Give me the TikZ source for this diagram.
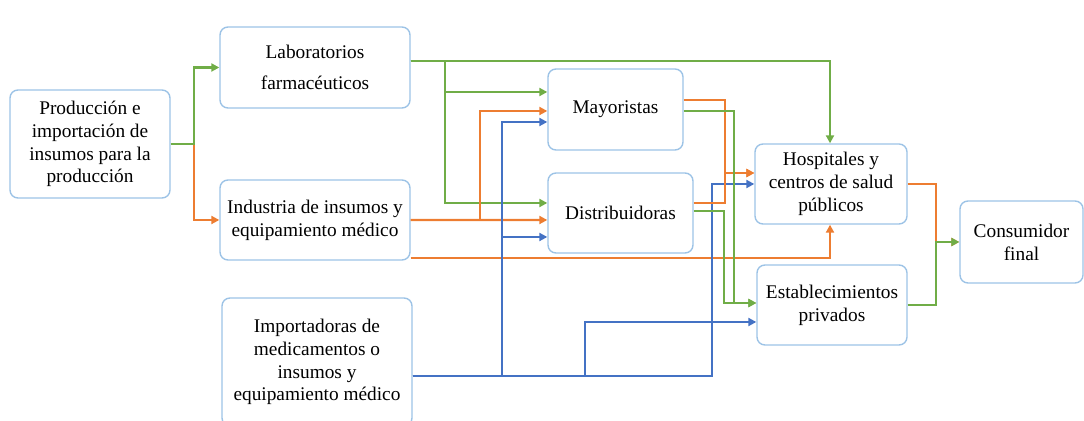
\documentclass[tikz,border=0pt]{standalone}
\usepackage{fontspec}
\setmainfont{Liberation Serif}
\usetikzlibrary{arrows.meta}
\definecolor{boxblue}{HTML}{9DC3E6}
\definecolor{grn}{HTML}{70AD47}
\definecolor{org}{HTML}{ED7D31}
\definecolor{blu}{HTML}{4472C4}
\begin{document}
\begin{tikzpicture}[x=0.02cm, y=-0.02cm,
       font=\fontsize{11}{13}\selectfont,
       box/.style={draw=boxblue, line width=0.8pt, rounded corners=4.5pt, align=center, inner sep=2pt},
       link/.style={line width=1.3pt, -{Triangle[length=4.5pt,width=4.5pt]}}]
       \useasboundingbox (0,0) rectangle (1084,421);

       \node[box, minimum width=3.2cm, minimum height=2.16cm] (prod) at (90,144) {Producción e\\importación de\\insumos para la\\producción};
       \node[box, minimum width=3.8cm, minimum height=1.62cm] (lab) at (315,67.5) {Laboratorios\\[4.5pt]farmacéuticos};
       \node[box, minimum width=3.8cm, minimum height=1.6cm] (ind) at (315,220) {Industria de insumos y\\equipamiento médico};
       \node[box, minimum width=3.8cm, minimum height=2.56cm] (imp) at (317,362) {Importadoras de\\medicamentos o\\insumos y\\equipamiento médico};
       \node[box, minimum width=2.7cm, minimum height=1.62cm] (may) at (615.5,109.5) {Mayoristas};
       \node[box, minimum width=2.9cm, minimum height=1.6cm] (dist) at (620.5,213) {Distribuidoras};
       \node[box, minimum width=3.04cm, minimum height=1.6cm] (hosp) at (831,184) {Hospitales y\\centros de salud\\públicos};
       \node[box, minimum width=3.0cm, minimum height=1.6cm] (est) at (832,305) {Establecimientos\\privados};
       \node[box, minimum width=2.46cm, minimum height=1.64cm] (cons) at (1021.5,242) {Consumidor\\final};

       \coordinate (impout) at ([yshift=-0.28cm]imp.east);

       \draw [org, link] (prod.east) ++(23,0) |- (ind.west);
       \draw [grn, link] (prod.east) -- ++(23,0) |- (lab.west);

       \draw [grn, link] ([yshift=0.13cm]lab.east) -| ([xshift=-0.02cm]hosp.north);
       \draw [grn, link] ([yshift=0.13cm]lab.east) -- ++(34,0) |- ([yshift=0.35cm]may.west);
       \draw [grn, link] ([yshift=0.13cm]lab.east) -- ++(34,0) |- ([yshift=0.2cm]dist.west);

       \draw [org, link] (ind.east) -- ++(69,0) |- ([yshift=-0.03cm]may.west);
       \draw [org, link] (ind.east) -- ([yshift=-0.14cm]dist.west);
       \draw [org, link] ([yshift=-0.76cm]ind.east) -| ([xshift=-0.02cm]hosp.south);

       \draw [blu, link] (impout) -- ++(89,0) |- ([yshift=-0.25cm]may.west);
       \draw [blu, link] (impout) -- ++(89,0) |- ([yshift=-0.48cm]dist.west);
       \draw [blu, link] (impout) -- ++(172,0) |- ([yshift=-0.34cm]est.west);
       \draw [blu, link] (impout) -- ++(299,0) |- (hosp.west);

       \draw [org, link] ([yshift=0.19cm]may.east) -- ++(41,0) |- ([yshift=0.22cm]hosp.west);
       \draw [org, link] ([yshift=0.2cm]dist.east) -- ++(31,0) |- ([yshift=0.22cm]hosp.west);
       \draw [grn, link] ([yshift=-0.03cm]may.east) -- ++(50,0) |- ([yshift=0.04cm]est.west);
       \draw [grn, link] ([yshift=0.04cm]dist.east) -- ++(30,0) |- ([yshift=0.04cm]est.west);

       \draw [org, link] (hosp.east) -- ++(28,0) |- (cons.west);
       \draw [grn, link] (est.east) -- ++(28,0) |- (cons.west);
    \end{tikzpicture}
\end{document}
